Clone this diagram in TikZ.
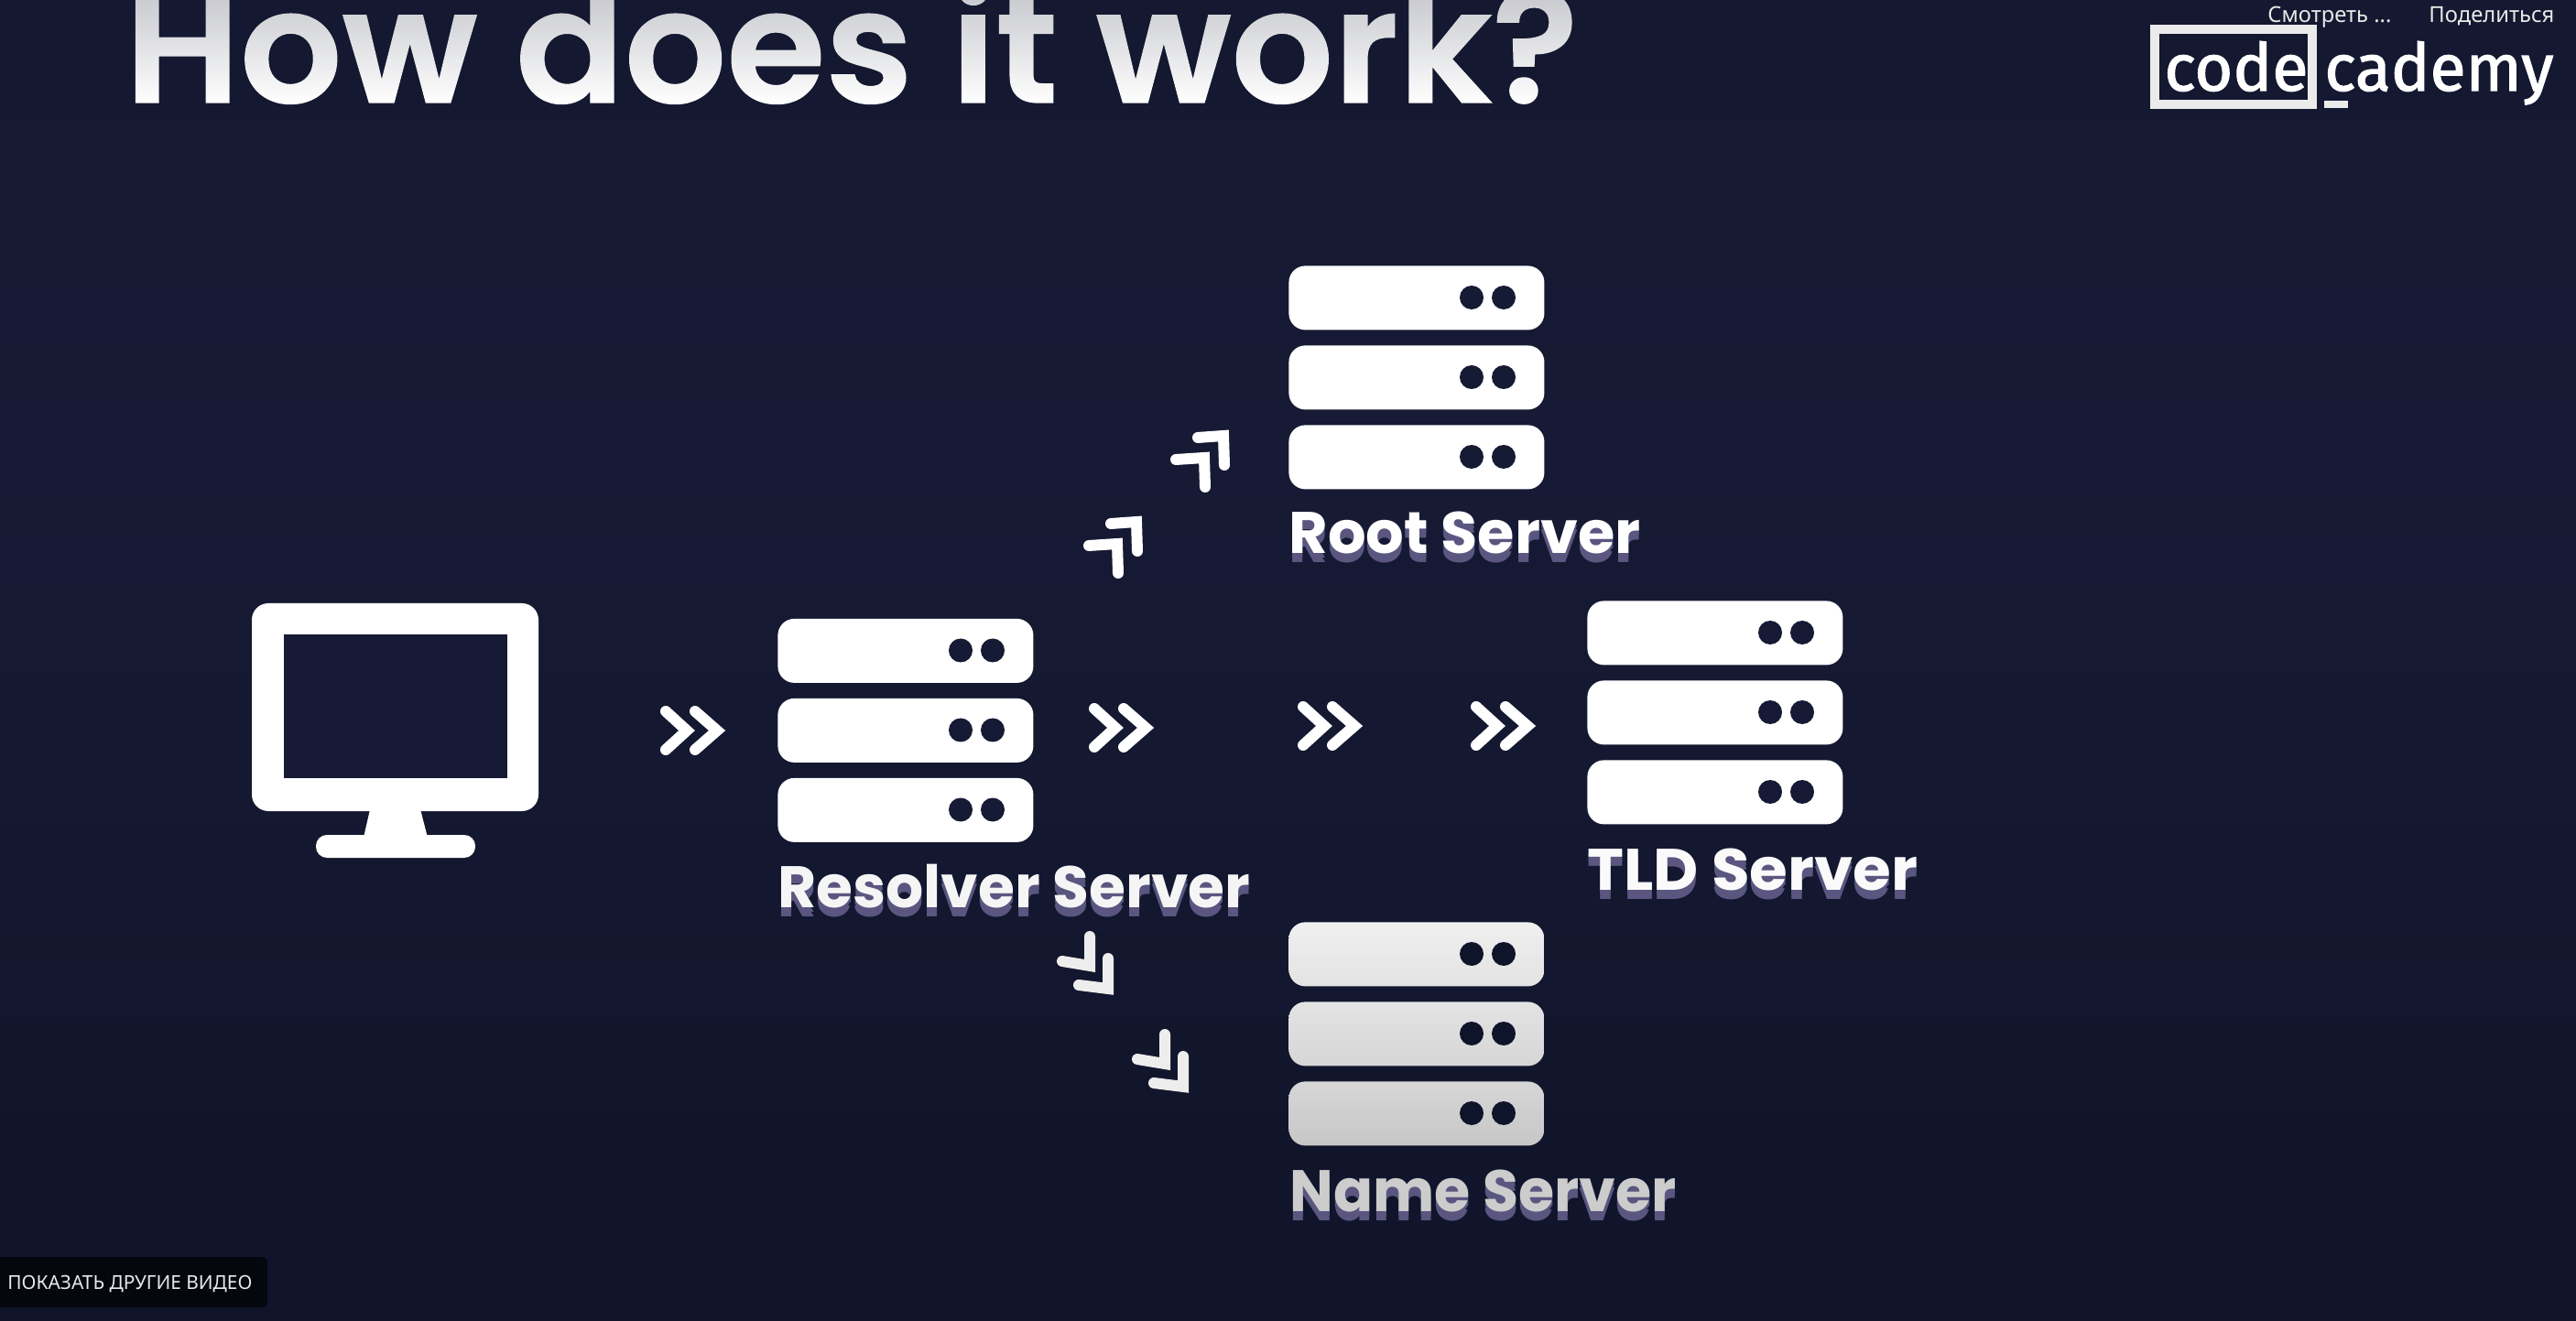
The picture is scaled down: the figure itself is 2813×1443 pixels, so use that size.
\documentclass[tikz,border=0pt]{standalone}
\usepackage{fontspec}
\usepackage{graphicx}
\usetikzlibrary{fadings}
\setmainfont{Poppins}
\newfontfamily\titlefont[FakeBold=0.8]{Poppins SemiBold}
\newfontfamily\uifont{Noto Sans}
\newfontfamily\logofont[FakeBold=1.6]{Fira Sans}
\definecolor{bgtop}{HTML}{141830}
\definecolor{bgmid}{HTML}{161A34}
\definecolor{bgbot}{HTML}{10142A}
\definecolor{shadowc}{HTML}{5A5680}
\definecolor{btn}{HTML}{05070F}
\definecolor{uitext}{HTML}{E8E8E8}
\tikzfading[name=titlefade, top color=transparent!78, bottom color=transparent!100]
\tikzset{
  rack/.style={draw=none, rounded corners=9pt, minimum width=139.5pt, minimum height=35pt, inner sep=0pt, anchor=north west},
  hole/.style={circle, fill=#1, draw=none, minimum size=13pt, inner sep=0pt},
  hole/.default=bgmid,
  chev/.style={draw=#1, line width=6pt, line cap=round, line join=miter},
  chev/.default=white,
  label/.style={anchor=base west, inner sep=0pt, font=\bfseries\fontsize{32}{32}\selectfont},
  uilabel/.style={anchor=base west, inner sep=0pt, text=uitext, font=\uifont\fontsize{12}{12}\selectfont},
  logotext/.style={anchor=base west, inner sep=0pt, text=white, font=\logofont\fontsize{36}{36}\selectfont},
  plainrow/.style={fill=white},
  greyrowa/.style={top color=white!94!black, bottom color=white!89!black},
  greyrowb/.style={top color=white!89!black, bottom color=white!84!black},
  greyrowc/.style={top color=white!84!black, bottom color=white!78!black}
}
\newcommand{\serverstack}[7]{% name, x, y, styles of the three rows, hole colour
  \node[rack,#4] (#1a) at (#2,#3) {};
  \node[rack,#5] (#1b) at (#2,#3+87) {};
  \node[rack,#6] (#1c) at (#2,#3+174) {};
  \foreach \r/\dy in {a/35,b/122,c/209}{
    \node[hole=#7] (#1\r1) at (#2+200,#3+\dy) {};
    \node[hole=#7] (#1\r2) at (#2+235,#3+\dy) {};
  }
}
\newcommand{\shadowlabel}[6]{% name, x, baseline, width, colour, text
  \node[label, text=shadowc] (#1s) at (#2,#3+10) {\resizebox{#4}{\height}{#6}};
  \node[label, text=shadowc] (#1t) at (#2,#3+5) {\resizebox{#4}{\height}{#6}};
  \node[label, text=#5] (#1) at (#2,#3) {\resizebox{#4}{\height}{#6}};
}
\newcommand{\dblright}[2]{% centre x, y
  \draw[chev] (#1-28,#2-21) -- (#1-5,#2) -- (#1-28,#2+21);
  \draw[chev] (#1+4,#2-21) -- (#1+28,#2) -- (#1+4,#2+21);
}
\newcommand{\dblup}[2]{% offset
  \draw[chev] (1308+#1,478+#2) -- (1336+#1,476+#2) -- (1337+#1,508+#2);
  \draw[chev] (1284+#1,502+#2) -- (1315+#1,500+#2) -- (1316+#1,532+#2);
}
\newcommand{\dbldown}[2]{% offset
  \draw[chev=white!93!black] (1190+#1,1023+#2) -- (1190+#1,1055+#2) -- (1160+#1,1050+#2);
  \draw[chev=white!93!black] (1210+#1,1047+#2) -- (1210+#1,1080+#2) -- (1178+#1,1076+#2);
}
\begin{document}
\begin{tikzpicture}[x=0.5pt,y=-0.5pt]
\useasboundingbox (0,0) rectangle (2813,1443);
\clip (0,0) rectangle (2813,1443);
\shade[top color=bgtop, bottom color=bgmid] (0,0) rectangle (2813,500);
\shade[top color=bgmid, bottom color=bgbot] (0,500) rectangle (2813,1443);

% title
\node[anchor=base west, inner sep=0pt, text=white, font=\titlefont\fontsize{86}{86}\selectfont] (title) at (136,112) {\resizebox{793.5pt}{\height}{How does it work?}};
\fill[bgtop, path fading=titlefade] (0,0) rectangle (1800,112);

% logo
\node[draw=white!92!black, line width=5pt, minimum width=86pt, minimum height=41pt, inner sep=0pt] (logobox) at (2439,73) {};
\node[logotext] (code) at (2363,99) {\resizebox{78.5pt}{\height}{code}};
\node[logotext] (cademy) at (2538,99) {\resizebox{125pt}{\height}{cademy}};
\node[fill=white!92!black, minimum width=13pt, minimum height=4pt, inner sep=0pt, anchor=north west] (logobar) at (2538,110) {};

% player captions
\node[uilabel] (watch) at (2476,25) {\resizebox{67.5pt}{\height}{Смотреть ...}};
\node[uilabel] (share) at (2652,25) {\resizebox{68.5pt}{\height}{Поделиться}};
\fill[btn, rounded corners=2.5pt] (-20,1373) rectangle (292,1428);
\node[uilabel, font=\uifont\fontsize{10.5}{10.5}\selectfont] (more) at (8,1408) {\resizebox{133.5pt}{\height}{ПОКАЗАТЬ ДРУГИЕ ВИДЕО}};

% monitor
\fill[white, rounded corners=9pt] (275,659) rectangle (588,886);
\fill[white] (405,880) -- (458,880) -- (467,915) -- (397,915) -- cycle;
\fill[white, rounded corners=6pt] (345,912) rectangle (519,937);
\fill[bgmid] (310,693) rectangle (554,850);

% servers
\serverstack{root}{1407}{290}{plainrow}{plainrow}{plainrow}{bgmid}
\serverstack{resolver}{849}{675.5}{plainrow}{plainrow}{plainrow}{bgmid}
\serverstack{tld}{1733}{656}{plainrow}{plainrow}{plainrow}{bgmid}
\serverstack{name}{1407}{1007}{greyrowa}{greyrowb}{greyrowc}{bgbot}

% labels
\shadowlabel{rootlabel}{1407}{605}{192pt}{white}{Root Server}
\shadowlabel{resolverlabel}{849}{991}{258pt}{white!96!black}{Resolver Server}
\shadowlabel{tldlabel}{1733}{972}{180.5pt}{white!98!black}{TLD Server}
\shadowlabel{namelabel}{1408}{1323}{211pt}{white!80!black}{Name Server}

% chevrons
\dblright{755}{798}
\dblright{1223}{795}
\dblright{1451}{793}
\dblright{1640}{793}
\dblup{0}{0}
\dblup{-95}{94}
\dbldown{0}{0}
\dbldown{82}{107}
\end{tikzpicture}
\end{document}
